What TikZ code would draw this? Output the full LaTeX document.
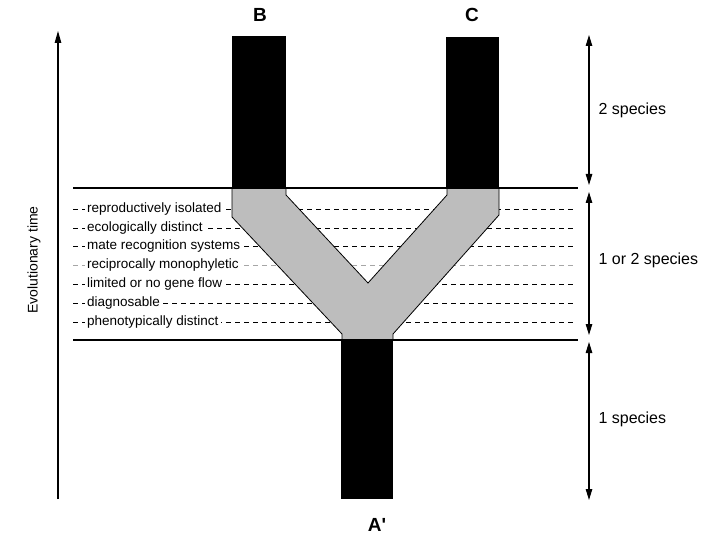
\documentclass[tikz,border=0pt]{standalone}
\usepackage{fontspec}
\setmainfont{Liberation Sans}
\usetikzlibrary{arrows.meta}
\definecolor{branchgray}{HTML}{BDBDBD}
\tikzset{
  crit/.style={anchor=west, fill=white, inner xsep=2.5pt, inner ysep=0.5pt, font=\fontsize{13.5}{15}\selectfont},
  critline/.style={dash pattern=on 5pt off 4pt, line width=0.9pt},
  bound/.style={line width=2.6pt},
  bar/.style={fill=black, draw=none},
  span/.style={line width=1.1pt, {Triangle[length=11pt,width=6.5pt]}-{Triangle[length=11pt,width=6.5pt]}},
  spanlab/.style={anchor=west, font=\fontsize{16}{18}\selectfont},
  taxon/.style={font=\fontsize{19}{22}\selectfont\bfseries}
}
\begin{document}
\begin{tikzpicture}[x=1pt,y=-1pt]
\useasboundingbox (0,0) rectangle (720,540);
% criterion lines
\foreach \y/\c in {209/black,228/black,246.5/black,265/gray!70,284/black,303/black,322/black}
  \draw[critline,\c] (73,\y) -- (575,\y);
\node[crit] (c1) at (84.5,209) {reproductively isolated};
\node[crit] (c2) at (84.5,228) {ecologically distinct};
\node[crit] (c3) at (84.5,246.5) {mate recognition systems};
\node[crit] (c4) at (84.5,265) {reciprocally monophyletic};
\node[crit] (c5) at (84.5,284) {limited or no gene flow};
\node[crit] (c6) at (84.5,303) {diagnosable};
\node[crit] (c7) at (84.5,322) {phenotypically distinct};
% gray Y
\filldraw[fill=branchgray, draw=black, line width=0.8pt]
  (232,188) -- (232,217) -- (342,334) -- (342,340) -- (393,340) -- (393,334)
  -- (499,215) -- (499,188) -- (447,188) -- (447,195) -- (368,283)
  -- (286,195) -- (286,188) -- cycle;
% bars
\node[bar, minimum width=54pt, minimum height=152pt, inner sep=0pt] (barB) at (259,112) {};
\node[bar, minimum width=53pt, minimum height=151pt, inner sep=0pt] (barC) at (472.5,112.5) {};
\node[bar, minimum width=52pt, minimum height=159pt, inner sep=0pt] (barA) at (367,419.5) {};
% boundaries
\draw[bound] (73,188) -- (578,188);
\draw[bound] (73,340) -- (578,340);
% labels
\node[taxon] (B) at (260,15) {B};
\node[taxon] (C) at (472,15) {C};
\node[taxon] (A) at (377,525) {A\textquotesingle};
% time arrow
\coordinate (t0) at (58,499);
\coordinate (t1) at (58,31);
\draw[line width=1.1pt, -{Triangle[length=12pt,width=6.5pt]}] (t0) -- (t1);
\node[rotate=90, font=\fontsize{14}{16}\selectfont] (evo) at (34,260) {Evolutionary time};
% spans
\coordinate (s0) at (589,35);
\coordinate (s1) at (589,185);
\coordinate (s2) at (589,192);
\coordinate (s3) at (589,335);
\coordinate (s4) at (589,342);
\coordinate (s5) at (589,500);
\draw[span] (s0) -- (s1);
\draw[span] (s2) -- (s3);
\draw[span] (s4) -- (s5);
\node[spanlab] (l2) at (595,110) {2 species};
\node[spanlab] (l12) at (595,260) {1 or 2 species};
\node[spanlab] (l1) at (595,419) {1 species};
\end{tikzpicture}
\end{document}
